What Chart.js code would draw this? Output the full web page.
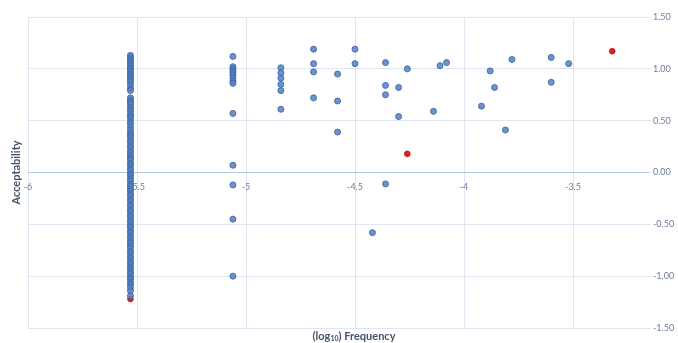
<!DOCTYPE html>
<html lang="en">
<head>
    <title>Acceptability vs Frequency</title>
    <script src="https://cdn.jsdelivr.net/npm/chart.js@4.4.0/dist/chart.umd.min.js"></script>
    <style>
    body {
        margin: 0;
        background-color: #fff;
        overflow: hidden;
    }
    .chart-container {
        width: 678px;
        height: 343px;
    }
    </style>
</head>
<body>
    <div class="chart-container">
        <canvas id="scatterChart"></canvas>
    </div>

    <script>
        // Columna densa en x = -5.53
        const colX = -5.53;
        const colY = [1.13, 1.11, 1.09, 1.07, 1.05, 1.03, 1.01, 0.99, 0.97, 0.95, 0.93, 0.91, 0.89, 0.87, 0.84, 0.81, 0.79,
            0.72, 0.70, 0.68, 0.66, 0.63, 0.61, 0.59, 0.56, 0.54, 0.52, 0.49, 0.47, 0.44,
            0.41, 0.38, 0.36, 0.34, 0.31, 0.29, 0.26, 0.24, 0.21, 0.19, 0.16, 0.14, 0.12, 0.09, 0.07, 0.04, 0.02,
            -0.01, -0.03, -0.06, -0.08, -0.11, -0.13, -0.16, -0.18, -0.21, -0.23, -0.26, -0.28, -0.31, -0.33,
            -0.36, -0.38, -0.41, -0.43, -0.46, -0.48, -0.51, -0.53, -0.56, -0.58, -0.61, -0.63, -0.66, -0.68,
            -0.71, -0.73, -0.76, -0.78, -0.81, -0.83, -0.86, -0.88, -0.91, -0.93, -0.96, -0.98, -1.01, -1.03,
            -1.06, -1.08, -1.11, -1.14, -1.19];

        // Segunda columna en x = -5.06
        const col2X = -5.06;
        const col2Y = [1.12, 1.02, 1.00, 0.98, 0.96, 0.94, 0.91, 0.88, 0.86, 0.57, 0.07, -0.12, -0.45, -1.00];

        // Resto de puntos azules
        const blueX = [-4.84, -4.84, -4.84, -4.84, -4.84, -4.84,
            -4.69, -4.69, -4.69, -4.69,
            -4.58, -4.58, -4.58,
            -4.50, -4.50,
            -4.42,
            -4.36, -4.36, -4.36, -4.36,
            -4.30, -4.30,
            -4.26,
            -4.14, -4.11, -4.08,
            -3.92, -3.88, -3.86, -3.81, -3.78,
            -3.60, -3.60, -3.52];
        const blueY = [1.01, 0.96, 0.91, 0.85, 0.79, 0.61,
            1.19, 1.05, 0.97, 0.72,
            0.95, 0.69, 0.39,
            1.19, 1.05,
            -0.58,
            1.06, 0.84, 0.75, -0.11,
            0.82, 0.54,
            1.00,
            0.59, 1.03, 1.06,
            0.64, 0.98, 0.82, 0.41, 1.09,
            1.11, 0.87, 1.05];

        // Puntos rojos
        const redX = [-5.53, -4.26, -3.32];
        const redY = [-1.22, 0.18, 1.17];

        const yTicks = [1.5, 1.0, 0.5, 0.0, -0.5, -1.0, -1.5];
        const xTicks = [-6, -5.5, -5, -4.5, -4, -3.5];

        const bluePoints = colY.map(v => ({ x: colX, y: v }))
            .concat(col2Y.map(v => ({ x: col2X, y: v })))
            .concat(blueX.map((v, i) => ({ x: v, y: blueY[i] })));
        const redPoints = redX.map((v, i) => ({ x: v, y: redY[i] }));

        const tickColor = '#6f7d99';
        const gridColor = '#dfe6f1';

        // Títulos de los ejes dibujados a mano
        const axisTitles = {
            id: 'axisTitles',
            afterDraw(chart) {
                const ctx = chart.ctx;
                const area = chart.chartArea;
                ctx.save();
                ctx.fillStyle = '#44546a';
                ctx.font = 'bold 11px Lato, sans-serif';
                ctx.textBaseline = 'middle';

                // eje y
                ctx.translate(16, (area.top + area.bottom) / 2);
                ctx.rotate(-Math.PI / 2);
                ctx.textAlign = 'center';
                ctx.fillText('Acceptability', 0, 0);
                ctx.setTransform(1, 0, 0, 1, 0, 0);

                // eje x con subíndice
                const a = '(log';
                const sub = '10';
                const b = ') Frequency';
                ctx.font = 'bold 11px Lato, sans-serif';
                const wa = ctx.measureText(a).width;
                const wb = ctx.measureText(b).width;
                ctx.font = 'bold 7px Lato, sans-serif';
                const ws = ctx.measureText(sub).width;
                let x = 354 - (wa + ws + wb) / 2;
                const y = 336;
                ctx.textAlign = 'left';
                ctx.font = 'bold 11px Lato, sans-serif';
                ctx.fillText(a, x, y);
                x += wa;
                ctx.font = 'bold 7px Lato, sans-serif';
                ctx.fillText(sub, x, y + 3);
                x += ws;
                ctx.font = 'bold 11px Lato, sans-serif';
                ctx.fillText(b, x, y);
                ctx.restore();
            }
        };

        const ctx = document.getElementById('scatterChart').getContext('2d');
        const chart = new Chart(ctx, {
            type: 'scatter',
            data: {
                datasets: [
                    {
                        label: 'Acceptability',
                        data: bluePoints,
                        backgroundColor: 'rgba(84,128,192,0.85)',
                        borderColor: 'rgba(62,104,168,0.9)',
                        borderWidth: 1,
                        pointRadius: 3
                    },
                    {
                        label: 'Highlighted',
                        data: redPoints,
                        backgroundColor: '#e0201b',
                        borderColor: '#c8171a',
                        borderWidth: 1,
                        pointRadius: 2.8
                    }
                ]
            },
            options: {
                responsive: true,
                maintainAspectRatio: false,
                animation: false,
                layout: {
                    padding: { left: 28, top: 17, right: 0, bottom: 15 }
                },
                plugins: {
                    legend: { display: false },
                    tooltip: { enabled: false }
                },
                scales: {
                    x: {
                        type: 'linear',
                        position: { y: 0 },
                        min: -6,
                        max: -3.156,
                        afterBuildTicks(scale) {
                            scale.ticks = xTicks.map(v => ({ value: v }));
                        },
                        grid: {
                            color: gridColor,
                            drawTicks: false
                        },
                        border: {
                            display: true,
                            color: '#b4c4de',
                            width: 1
                        },
                        ticks: {
                            color: tickColor,
                            font: { family: 'Lato, sans-serif', size: 9 },
                            padding: 9,
                            maxRotation: 0,
                            callback: v => String(v)
                        }
                    },
                    y: {
                        type: 'linear',
                        position: 'right',
                        min: -1.5,
                        max: 1.5,
                        afterBuildTicks(scale) {
                            scale.ticks = yTicks.map(v => ({ value: v }));
                        },
                        afterFit(scale) {
                            scale.width = 30;
                        },
                        grid: {
                            color: gridColor,
                            tickLength: 3,
                            drawTicks: true
                        },
                        border: { display: false },
                        ticks: {
                            color: tickColor,
                            font: { family: 'Lato, sans-serif', size: 9 },
                            padding: 2,
                            callback: v => Number(v).toFixed(2)
                        }
                    }
                }
            },
            plugins: [axisTitles]
        });
    </script>
</body>
</html>
